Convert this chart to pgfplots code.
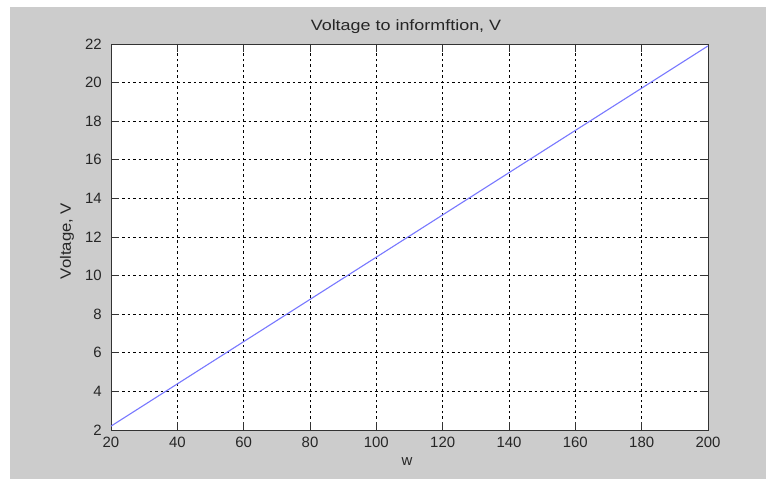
\documentclass[border=0pt]{standalone}
\usepackage{fontspec}
\setmainfont{Liberation Sans}
\usepackage{graphicx}
\usepackage{pgfplots}
\pgfplotsset{compat=1.18}
\definecolor{figgray}{RGB}{204,204,204}
\definecolor{lineblue}{RGB}{120,120,255}
\newcommand{\figfont}{\fontsize{15}{15}\selectfont}
\begin{document}
\begin{tikzpicture}
  % page and figure background
  \fill[white] (0bp,0bp) rectangle (766bp,479bp);
  \fill[figgray] (10bp,0bp) rectangle (766bp,472bp);
  \useasboundingbox (0bp,0bp) rectangle (766bp,479bp);
  \begin{axis}[
    at={(111bp,49bp)}, anchor=south west,
    scale only axis, width=597bp, height=386bp,
    xmin=20, xmax=200, ymin=2, ymax=22,
    xtick={20,40,...,200}, ytick={2,4,...,22},
    axis background/.style={fill=white},
    axis line style={black!80, line width=0.8bp},
    tick align=inside, major tick length=8bp,
    xtick pos=both, ytick pos=both,
    every tick/.style={black!80, line width=0.7bp},
    grid=major,
    major grid style={black, line width=0.6bp, dash pattern=on 2.5bp off 3bp},
    /pgf/number format/assume math mode=true,
    ticklabel style={font=\figfont, text=black!85},
    xticklabel style={inner sep=0pt, yshift=-7bp},
    yticklabel style={inner sep=0pt, xshift=-9bp},
    clip=false,
  ]
    \addplot[lineblue, line width=1.1bp] coordinates {(20,2.2) (200,21.9)};
  \end{axis}
  % titles
  \node[text=black!85] at (406bp,452bp) {\figfont\scalebox{1.2}[1]{Voltage to informftion, V}};
  \node[text=black!85] at (407bp,17bp) {\figfont w};
  \node[text=black!85, rotate=90] at (67bp,238bp) {\figfont\scalebox{1.12}[1]{Voltage, V}};
\end{tikzpicture}
\end{document}
